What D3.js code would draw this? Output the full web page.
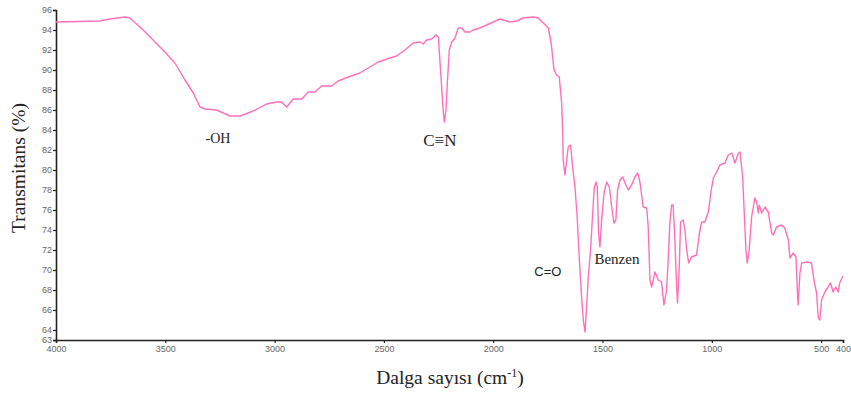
<!DOCTYPE html>
<html lang="tr">
<head>
  <meta charset="utf-8">
  <title>FTIR spektrumu</title>
  <script src="https://d3js.org/d3.v7.min.js"></script>
  <style>
    body { margin: 0; background: #fff; }
    .tick text { font-family: "Liberation Sans", Arial, sans-serif; font-size: 9px; }
    .axis path, .axis line { stroke: #222; }
    .lbl { font-family: "Liberation Serif", "Times New Roman", serif; fill: #222; }
  </style>
</head>
<body>
  <svg width="851" height="394"></svg>
  <script>
    // spectrum (wavenumber cm-1, transmittance %)
    var wavenumber = [4000, 3799, 3753, 3684, 3662, 3601, 3502, 3456, 3410, 3372, 3341, 3318, 3265, 3204, 3158,
      3098, 3036, 2991, 2968, 2945, 2915, 2876, 2846, 2815, 2785, 2739, 2709, 2663, 2610, 2564, 2526, 2472, 2442,
      2404, 2366, 2335, 2320, 2304, 2282, 2262, 2251, 2244, 2236, 2229, 2224, 2216, 2210, 2201, 2190, 2175, 2160,
      2144, 2129, 2106, 2091, 2061, 2030, 2000, 1969, 1923, 1893, 1863, 1817, 1794, 1771, 1748, 1740, 1733, 1722,
      1710, 1698, 1687, 1682, 1680, 1672, 1657, 1646, 1637, 1626, 1616, 1606, 1595, 1588, 1580, 1573, 1565, 1554,
      1545, 1538, 1530, 1524, 1518, 1512, 1504, 1493, 1481, 1469, 1458, 1448, 1439, 1431, 1420, 1408, 1393, 1382,
      1367, 1352, 1339, 1329, 1314, 1298, 1291, 1283, 1275, 1260, 1245, 1230, 1219, 1207, 1199, 1192, 1184, 1177,
      1169, 1161, 1157, 1149, 1143, 1131, 1123, 1115, 1106, 1093, 1070, 1058, 1047, 1032, 1016, 1005, 993, 978,
      963, 940, 925, 909, 894, 879, 871, 859, 853, 844, 838, 829, 818, 803, 795, 788, 783, 772, 757, 742, 726, 719,
      704, 681, 666, 650, 643, 628, 615, 609, 605, 597, 589, 566, 544, 533, 521, 513, 506, 498, 483, 468, 457, 445,
      433, 422, 415, 400];
    var transmitans = [94.8, 94.9, 95.1, 95.3, 95.2, 94.0, 91.8, 90.7, 89.0, 87.7, 86.3, 86.1, 86.0, 85.4, 85.4,
      85.9, 86.6, 86.8, 86.8, 86.3, 87.1, 87.1, 87.8, 87.8, 88.4, 88.4, 88.9, 89.3, 89.7, 90.3, 90.8, 91.2, 91.4,
      92.0, 92.7, 92.8, 92.6, 93.0, 93.1, 93.5, 93.3, 91.0, 88.3, 86.0, 84.8, 86.0, 88.7, 92.0, 92.8, 93.2, 94.2,
      94.2, 93.8, 93.8, 94.0, 94.2, 94.5, 94.8, 95.1, 94.8, 94.9, 95.2, 95.3, 95.2, 94.7, 94.2, 93.3, 92.3, 90.0,
      89.5, 89.3, 86.7, 83.7, 81.0, 79.5, 82.3, 82.5, 80.3, 78.3, 75.3, 71.0, 67.0, 65.0, 63.8, 66.3, 69.3, 72.3,
      75.7, 78.2, 78.8, 78.3, 73.7, 72.3, 75.0, 77.7, 78.8, 78.3, 76.3, 74.7, 75.0, 78.0, 79.0, 79.3, 78.5, 78.0,
      78.5, 79.3, 79.7, 78.8, 76.3, 76.2, 74.3, 69.0, 68.3, 69.8, 69.0, 68.8, 66.5, 68.0, 71.3, 74.7, 76.5, 76.5,
      73.0, 68.3, 66.7, 70.3, 74.8, 75.0, 74.0, 72.0, 70.7, 71.3, 71.5, 73.5, 74.8, 74.8, 75.8, 77.7, 79.2, 79.8,
      80.5, 80.7, 81.5, 81.7, 80.7, 81.7, 81.8, 79.3, 76.3, 72.0, 70.7, 72.0, 75.3, 77.2, 76.8, 75.7, 76.5, 75.7,
      76.3, 75.8, 73.7, 73.5, 74.3, 74.5, 74.2, 73.0, 71.2, 71.7, 71.3, 68.0, 66.5, 69.7, 70.7, 70.8, 70.7, 69.0,
      67.7, 65.2, 65.0, 67.0, 67.8, 68.3, 68.7, 67.8, 68.3, 67.8, 68.7, 69.4];

    var xTicks = [4000, 3500, 3000, 2500, 2000, 1500, 1000, 500, 400];
    var yTicks = [63, 64, 66, 68, 70, 72, 74, 76, 78, 80, 82, 84, 86, 88, 90, 92, 94, 96];

    var bands = [
      { text: "-OH", w: 3259, t: 83.0, size: 14, font: "serif" },
      { text: "C\u2261N", w: 2244, t: 82.8, size: 17, font: "serif" },
      { text: "C=O", w: 1750, t: 69.7, size: 13, font: "sans" },
      { text: "Benzen", w: 1434, t: 70.9, size: 15, font: "serif" }
    ];

    var svg = d3.select("svg");
    var plotL = 56, plotR = 843, plotT = 10, plotB = 340;

    var x = d3.scaleLinear().domain([4000, 400]).range([plotL, plotR]);
    var y = d3.scaleLinear().domain([63, 96]).range([plotB, plotT]);

    svg.append("g")
      .attr("class", "axis")
      .attr("transform", "translate(0," + plotB + ")")
      .call(d3.axisBottom(x).tickValues(xTicks).tickSize(3).tickPadding(3).tickFormat(d3.format("d")));

    svg.append("g")
      .attr("class", "axis")
      .attr("transform", "translate(" + plotL + ",0)")
      .call(d3.axisLeft(y).tickValues(yTicks).tickSize(3).tickPadding(1).tickFormat(d3.format("d")));

    svg.selectAll(".axis path").attr("stroke-width", 1.6);
    svg.selectAll(".axis .tick line").attr("stroke-width", 1.2);
    svg.selectAll(".axis .tick text").attr("fill", "#666");

    var pts = wavenumber.map(function (w, i) { return [w, transmitans[i]]; });

    var line = d3.line()
      .x(function (d) { return x(d[0]); })
      .y(function (d) { return y(d[1]); });

    svg.append("path")
      .datum(pts)
      .attr("fill", "none")
      .attr("stroke", "#ff70b8")
      .attr("stroke-width", 1.4)
      .attr("stroke-linejoin", "round")
      .attr("d", line);

    // band labels
    svg.selectAll("text.band")
      .data(bands)
      .enter().append("text")
      .attr("class", function (d) { return d.font == "serif" ? "band lbl" : "band"; })
      .attr("x", function (d) { return x(d.w); })
      .attr("y", function (d) { return y(d.t); })
      .attr("text-anchor", "middle")
      .attr("dominant-baseline", "middle")
      .style("font-family", function (d) { return d.font == "serif" ? null : "'Liberation Sans', Arial, sans-serif"; })
      .style("fill", "#222")
      .style("font-size", function (d) { return d.size + "px"; })
      .text(function (d) { return d.text; });

    // axis titles
    svg.append("text")
      .attr("class", "lbl")
      .attr("transform", "translate(25,168) rotate(-90)")
      .attr("text-anchor", "middle")
      .style("font-size", "19.5px")
      .text("Transmitans (%)");

    var xt = svg.append("text")
      .attr("class", "lbl")
      .attr("x", 450)
      .attr("y", 384)
      .attr("text-anchor", "middle")
      .style("font-size", "19.5px");
    xt.append("tspan").text("Dalga sayısı (cm");
    xt.append("tspan").attr("dy", -7).style("font-size", "12px").text("-1");
    xt.append("tspan").attr("dy", 7).text(")");
  </script>
</body>
</html>
